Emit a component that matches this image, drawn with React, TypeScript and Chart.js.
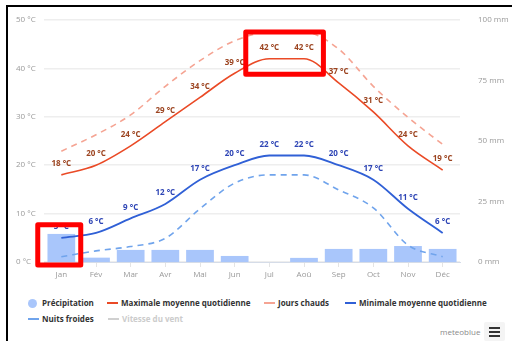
import React, { useEffect, useRef } from 'react';
import { Chart, registerables } from 'chart.js';
Chart.register(...registerables);

const months = ['Jan', 'Fév', 'Mar', 'Avr', 'Mai', 'Jun', 'Jul', 'Aoû', 'Sep', 'Oct', 'Nov', 'Déc'];
const precipitation = [11.6, 1.8, 5.0, 5.0, 5.0, 2.5, 0, 1.7, 5.4, 5.4, 6.6, 5.4];
const maxTemp = [18, 20, 24, 29, 34, 39, 42, 42, 37, 31, 24, 19];
const hotDays = [22.9, 26.3, 30.4, 36.3, 41.6, 45.7, 47.5, 47.5, 44, 36.3, 29.9, 24.3];
const minTemp = [5, 6, 9, 12, 17, 20, 22, 22, 20, 17, 11, 6];
const coldNights = [1.1, 2.3, 3.2, 4.9, 11, 16.3, 18, 18, 14.9, 11.2, 3.5, 1.1];
const tempRange = [0, 50, 10];
const precipRange = [0, 100, 25];
// highlight boxes: [first month, last month, top temp, bottom temp]
const highlights = [
  [6, 7, 47.5, 38.8],
  [0, 0, 7.7, -0.6],
];

const FONT = '"Open Sans", "DejaVu Sans", sans-serif';

const labelPlugin = {
  id: 'pointLabels',
  afterDatasetsDraw(chart: any) {
    const ctx = chart.ctx;
    chart.data.datasets.forEach((ds: any, i: number) => {
      if (!ds.labelColor) return;
      const meta = chart.getDatasetMeta(i);
      ctx.save();
      ctx.font = `bold 8px ${FONT}`;
      ctx.fillStyle = ds.labelColor;
      ctx.textAlign = 'center';
      ctx.textBaseline = 'middle';
      meta.data.forEach((pt: any, j: number) => {
        ctx.fillText(`${ds.data[j]} °C`, pt.x, pt.y - 11);
      });
      ctx.restore();
    });
  },
};

const boxPlugin = {
  id: 'highlightBoxes',
  afterDraw(chart: any) {
    const ctx = chart.ctx;
    const xs = chart.scales.x;
    const ys = chart.scales.y;
    const half = xs.getPixelForValue(1) - xs.getPixelForValue(0);
    ctx.save();
    ctx.strokeStyle = '#ff0000';
    ctx.lineWidth = 5;
    ctx.lineJoin = 'round';
    highlights.forEach(([a, b, t, bt]) => {
      const l = xs.getPixelForValue(a) - half * 0.68;
      const r = xs.getPixelForValue(b) + half * 0.56;
      const top = ys.getPixelForValue(t);
      const bot = ys.getPixelForValue(bt);
      ctx.strokeRect(l, top, r - l, bot - top);
    });
    ctx.restore();
  },
};

export default function App() {
  const ref = useRef<HTMLCanvasElement>(null);
  useEffect(() => {
    if (!ref.current) return;
    const chart = new Chart(ref.current, {
      type: 'bar',
      data: {
        labels: months,
        datasets: [
          {
            type: 'bar',
            label: 'Précipitation',
            data: precipitation,
            backgroundColor: '#a9c6fb',
            yAxisID: 'y1',
            order: 10,
            barPercentage: 0.8,
            categoryPercentage: 1,
          } as any,
          {
            type: 'line',
            label: 'Maximale moyenne quotidienne',
            data: maxTemp,
            borderColor: '#ea4a26',
            borderWidth: 1.6,
            pointRadius: 0,
            cubicInterpolationMode: 'monotone',
            yAxisID: 'y',
            order: 1,
            labelColor: '#9c4420',
          } as any,
          {
            type: 'line',
            label: 'Jours chauds',
            data: hotDays,
            borderColor: '#f5a493',
            borderWidth: 1.6,
            borderDash: [6, 5],
            pointRadius: 0,
            cubicInterpolationMode: 'monotone',
            yAxisID: 'y',
            order: 2,
          } as any,
          {
            type: 'line',
            label: 'Minimale moyenne quotidienne',
            data: minTemp,
            borderColor: '#3060d6',
            borderWidth: 1.8,
            pointRadius: 0,
            cubicInterpolationMode: 'monotone',
            yAxisID: 'y',
            order: 1,
            labelColor: '#2e45b5',
          } as any,
          {
            type: 'line',
            label: 'Nuits froides',
            data: coldNights,
            borderColor: '#70a4ec',
            borderWidth: 1.6,
            borderDash: [6, 5],
            pointRadius: 0,
            cubicInterpolationMode: 'monotone',
            yAxisID: 'y',
            order: 2,
          } as any,
        ],
      },
      options: {
        responsive: false,
        animation: false,
        events: [],
        layout: { padding: { left: 16, top: 20, right: 0, bottom: 0 } },
        plugins: { legend: { display: false }, tooltip: { enabled: false } },
        scales: {
          x: {
            grid: { display: true, drawOnChartArea: false, offset: false, tickLength: 5, color: '#e4e4e4' },
            border: { color: '#d5dce8' },
            ticks: { color: '#999', font: { family: FONT, size: 8 }, padding: 3, maxRotation: 0 },
            afterFit: (s: any) => { s.height = 28; },
          },
          y: {
            position: 'left',
            min: tempRange[0],
            max: tempRange[1],
            ticks: {
              stepSize: tempRange[2],
              color: '#999',
              font: { family: FONT, size: 8 },
              crossAlign: 'far',
              callback: (v: any) => `${v} °C`,
            },
            grid: { color: '#eeeeee', lineWidth: 1.5, drawTicks: false },
            border: { display: false },
            afterFit: (s: any) => { s.width = 28; },
          },
          y1: {
            position: 'right',
            min: precipRange[0],
            max: precipRange[1],
            ticks: {
              stepSize: precipRange[2],
              color: '#999',
              font: { family: FONT, size: 8 },
              padding: 10,
              callback: (v: any) => `${v} mm`,
            },
            grid: { display: false },
            border: { display: false },
            afterFit: (s: any) => { s.width = 52; },
          },
        },
      },
      plugins: [labelPlugin, boxPlugin],
    });
    return () => chart.destroy();
  }, []);

  const legendText: React.CSSProperties = {
    position: 'absolute',
    font: `bold 8px ${FONT}`,
    color: '#333',
    whiteSpace: 'nowrap',
    lineHeight: '12px',
  };
  const line = (left: number, top: number, color: string, dashed = false): React.CSSProperties => ({
    position: 'absolute',
    left,
    top,
    width: 11,
    height: 0,
    borderTop: `2px ${dashed ? 'dashed' : 'solid'} ${color}`,
  });

  return (
    <div style={{ position: 'fixed', left: 0, top: 0, width: 512, height: 341, background: '#fff', overflow: 'hidden' }}>
      <div style={{ position: 'absolute', left: 6, top: 5, width: 600, height: 400, border: '2.5px solid #000', boxSizing: 'border-box' }} />
      <canvas ref={ref} width={512} height={290} style={{ position: 'absolute', left: 0, top: 0, width: 512, height: 290 }} />
      <div style={{ position: 'absolute', left: 28, top: 299, width: 9, height: 9, borderRadius: '50%', background: '#a9c6fb' }} />
      <span style={{ ...legendText, left: 42, top: 297 }}>Précipitation</span>
      <div style={line(107, 302, '#ea4a26')} />
      <span style={{ ...legendText, left: 121, top: 297 }}>Maximale moyenne quotidienne</span>
      <div style={line(264, 302, '#f5a493', true)} />
      <span style={{ ...legendText, left: 278, top: 297 }}>Jours chauds</span>
      <div style={line(345, 302, '#3060d6')} />
      <span style={{ ...legendText, left: 359, top: 297 }}>Minimale moyenne quotidienne</span>
      <div style={line(28, 318, '#70a4ec', true)} />
      <span style={{ ...legendText, left: 42, top: 313 }}>Nuits froides</span>
      <div style={line(108, 318, '#d0d0d0')} />
      <span style={{ ...legendText, left: 122, top: 313, color: '#cccccc' }}>Vitesse du vent</span>
      <span style={{ position: 'absolute', left: 440, top: 325, font: `8px ${FONT}`, color: '#8a8a8a', lineHeight: '14px' }}>meteoblue</span>
      <div style={{ position: 'absolute', left: 484, top: 322, width: 21, height: 19, background: '#f4f4f4', borderRadius: 2 }}>
        {[5, 9, 13].map((t) => (
          <div key={t} style={{ position: 'absolute', left: 5, top: t, width: 11, height: 2, background: '#333' }} />
        ))}
      </div>
    </div>
  );
}
